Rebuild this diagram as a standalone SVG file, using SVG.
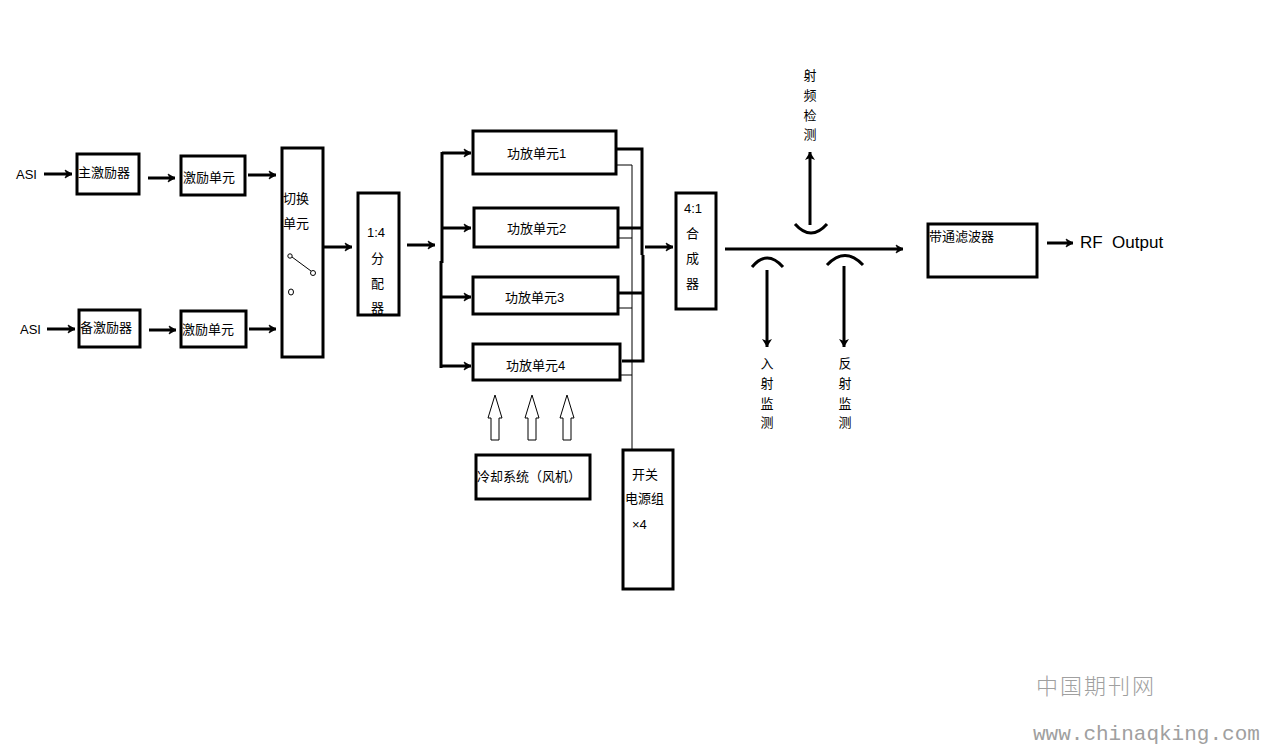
<svg xmlns="http://www.w3.org/2000/svg" width="1263" height="744" viewBox="0 0 1263 744">
<defs>
<style>
.box{fill:none;stroke:#000;stroke-width:3}
.ln{fill:none;stroke:#000;stroke-width:3}
.thin{fill:none;stroke:#000;stroke-width:1}
.t{font-family:"Liberation Sans","Noto Sans CJK SC",sans-serif;font-size:13px;fill:#000}
</style>
<marker id="ah" markerUnits="userSpaceOnUse" markerWidth="12" markerHeight="12" viewBox="-1 -6 10 12" refX="7" refY="0" orient="auto">
<path d="M0,-4 L7,0 L0,4 L2,0 Z" fill="#000" stroke="#000" stroke-width="0.8"/>
</marker>
<marker id="ah2" markerUnits="userSpaceOnUse" markerWidth="14" markerHeight="14" viewBox="-1 -7 12 14" refX="8" refY="0" orient="auto">
<path d="M0,-5 L8,0 L0,5 L2,0 Z" fill="#000"/>
</marker>
</defs>
<rect width="1263" height="744" fill="#fff"/>

<g id="connectors">
<line class="ln" x1="44" y1="174" x2="72" y2="174" marker-end="url(#ah)"/>
<line class="ln" x1="148" y1="178" x2="175" y2="178" marker-end="url(#ah)"/>
<line class="ln" x1="248" y1="175" x2="276" y2="175" marker-end="url(#ah)"/>
<line class="ln" x1="47" y1="329" x2="75" y2="329" marker-end="url(#ah)"/>
<line class="ln" x1="149" y1="330" x2="176" y2="330" marker-end="url(#ah)"/>
<line class="ln" x1="249" y1="329" x2="276" y2="329" marker-end="url(#ah)"/>
<line class="ln" x1="323" y1="247" x2="352" y2="247" marker-end="url(#ah)"/>
<line class="ln" x1="407" y1="245" x2="435" y2="245" marker-end="url(#ah)"/>
<line class="ln" x1="442" y1="152" x2="442" y2="263"/>
<line class="ln" x1="441" y1="261" x2="441" y2="368"/>
<line class="ln" x1="442" y1="153" x2="471" y2="153" marker-end="url(#ah)"/>
<line class="ln" x1="442" y1="228" x2="471" y2="228" marker-end="url(#ah)"/>
<line class="ln" x1="441" y1="297" x2="471" y2="297" marker-end="url(#ah)"/>
<line class="ln" x1="441" y1="366" x2="471" y2="366" marker-end="url(#ah)"/>
<polyline class="ln" points="616,149 642,149 642,255"/>
<line class="ln" x1="618" y1="228" x2="642" y2="228"/>
<polyline class="ln" points="643,255 643,361 622,361"/>
<line class="ln" x1="618" y1="293" x2="643" y2="293"/>
<line class="thin" x1="632" y1="165" x2="632" y2="450"/>
<line class="thin" x1="616" y1="165" x2="632" y2="165"/>
<line class="thin" x1="618" y1="238" x2="632" y2="238"/>
<line class="thin" x1="618" y1="308" x2="632" y2="308"/>
<line class="thin" x1="620" y1="375" x2="632" y2="375"/>
<line class="ln" x1="645" y1="247" x2="673" y2="247" marker-end="url(#ah)"/>
<line class="ln" x1="725" y1="249" x2="903" y2="249" marker-end="url(#ah)"/>
<path class="ln" d="M795,224 Q811,242 827,224"/>
<line class="ln" x1="810" y1="225" x2="810" y2="152" marker-end="url(#ah2)"/>
<path class="ln" d="M752,267 Q767,249 783,267"/>
<path class="ln" d="M827,265 Q845,246 863,265"/>
<line class="ln" x1="767" y1="270" x2="767" y2="347" marker-end="url(#ah2)"/>
<line class="ln" x1="844" y1="266" x2="844" y2="347" marker-end="url(#ah2)"/>
<line class="ln" x1="1047" y1="243" x2="1073" y2="243" marker-end="url(#ah)"/>
<g fill="#fff" stroke="#000" stroke-width="1">
<polygon points="495,395 502,418 499,418 499,440 491,440 491,418 488,418"/>
<polygon points="532,395 539,418 536,418 536,440 528,440 528,418 525,418"/>
<polygon points="567,395 574,418 571,418 571,440 563,440 563,418 560,418"/>
</g>
</g>

<g id="asi1"><text class="t" x="16" y="179">ASI</text></g>
<g id="asi2"><text class="t" x="20" y="334">ASI</text></g>

<g id="main-exciter"><rect class="box" x="77" y="154" width="62" height="40"/><text class="t" x="78" y="177">主激励器</text></g>
<g id="exc-unit1"><rect class="box" x="181" y="156" width="64" height="39"/><text class="t" x="183" y="182">激励单元</text></g>
<g id="backup-exciter"><rect class="box" x="79" y="310" width="61" height="37"/><text class="t" x="80" y="332">备激励器</text></g>
<g id="exc-unit2"><rect class="box" x="181" y="311" width="65" height="36"/><text class="t" x="182" y="334">激励单元</text></g>

<g id="switch-unit">
<rect class="box" x="282" y="148" width="41" height="209"/>
<text class="t" x="283" y="203">切换</text>
<text class="t" x="283" y="228">单元</text>
<circle cx="290" cy="256" r="2.2" fill="#fff" stroke="#000" stroke-width="1"/>
<line x1="292" y1="257" x2="311" y2="271" stroke="#000" stroke-width="1"/>
<circle cx="313" cy="273" r="2.5" fill="#fff" stroke="#000" stroke-width="1"/>
<ellipse cx="291" cy="292" rx="2.5" ry="3" fill="#fff" stroke="#000" stroke-width="1"/>
</g>

<g id="splitter">
<rect class="box" x="358" y="193" width="41" height="122"/>
<text class="t" x="367" y="237">1:4</text>
<text class="t" x="371" y="263">分</text>
<text class="t" x="371" y="288">配</text>
<text class="t" x="371" y="312">器</text>
</g>

<g id="pa1"><rect class="box" x="473" y="131" width="143" height="43"/><text class="t" x="507" y="158">功放单元1</text></g>
<g id="pa2"><rect class="box" x="474" y="208" width="144" height="39"/><text class="t" x="507" y="233">功放单元2</text></g>
<g id="pa3"><rect class="box" x="473" y="277" width="145" height="37"/><text class="t" x="505" y="302">功放单元3</text></g>
<g id="pa4"><rect class="box" x="473" y="344" width="147" height="36"/><text class="t" x="506" y="370">功放单元4</text></g>

<g id="combiner">
<rect class="box" x="676" y="193" width="40" height="116"/>
<text class="t" x="684" y="213">4:1</text>
<text class="t" x="686" y="238">合</text>
<text class="t" x="686" y="263">成</text>
<text class="t" x="686" y="288">器</text>
</g>

<g id="rf-detect" text-anchor="middle">
<text class="t" x="810" y="80">射</text>
<text class="t" x="810" y="100">频</text>
<text class="t" x="810" y="120">检</text>
<text class="t" x="810" y="139">测</text>
</g>
<g id="incident" text-anchor="middle">
<text class="t" x="767" y="368">入</text>
<text class="t" x="767" y="388">射</text>
<text class="t" x="767" y="408">监</text>
<text class="t" x="767" y="427">测</text>
</g>
<g id="reflect" text-anchor="middle">
<text class="t" x="845" y="368">反</text>
<text class="t" x="845" y="388">射</text>
<text class="t" x="845" y="408">监</text>
<text class="t" x="845" y="427">测</text>
</g>

<g id="bandpass"><rect class="box" x="928" y="224" width="109" height="53"/><text class="t" x="929" y="241">带通滤波器</text></g>
<g id="rf-output"><text x="1080" y="248" font-family="Liberation Sans, sans-serif" font-size="17" xml:space="preserve">RF  Output</text></g>

<g id="cooling"><rect class="box" x="476" y="455" width="114" height="44"/><text class="t" x="477" y="481">冷却系统（风机）</text></g>

<g id="psu">
<rect class="box" x="623" y="450" width="50" height="139"/>
<text class="t" x="632" y="479">开关</text>
<text class="t" x="625" y="503">电源组</text>
<text class="t" x="632" y="529" font-size="14">×4</text>
</g>

<g id="watermark">
<text x="1036" y="694" font-family="Noto Sans CJK SC, sans-serif" font-size="22" font-weight="300" fill="#a0a0a0" letter-spacing="2">中国期刊网</text>
<text x="1033" y="740" font-family="Liberation Mono, monospace" font-size="21" fill="#a0a0a0">www.chinaqking.com</text>
</g>
</svg>
